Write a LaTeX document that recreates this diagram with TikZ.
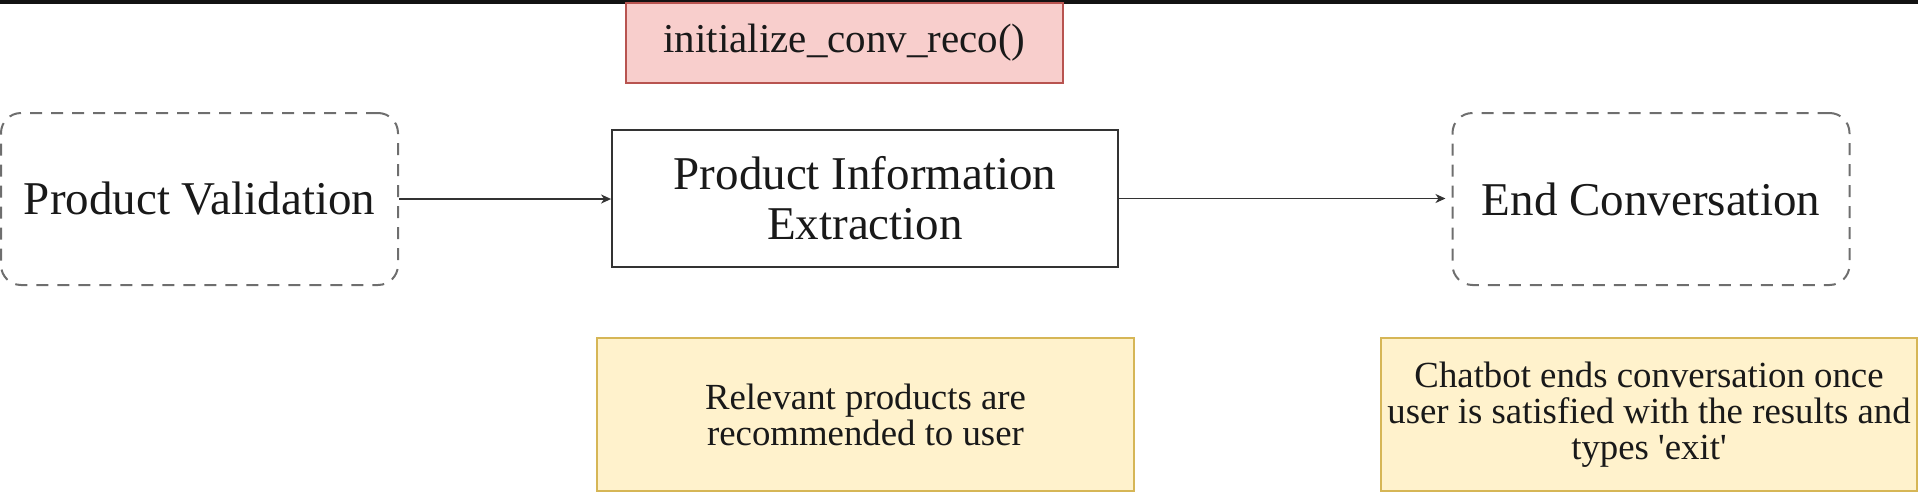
\documentclass[tikz,border=0pt]{standalone}
\usepackage{fontspec}
\setmainfont{Liberation Serif}[Ligatures=TeXOff]
\usetikzlibrary{arrows.meta}
\definecolor{pinkfill}{HTML}{F8CECC}
\definecolor{pinkline}{HTML}{B85450}
\definecolor{yelfill}{HTML}{FFF2CC}
\definecolor{yelline}{HTML}{D6B656}
\definecolor{dashgray}{HTML}{6E6E6E}
\definecolor{linegray}{HTML}{333333}
\tikzset{
  dashbox/.style={draw=dashgray, line width=1pt, dash pattern=on 6pt off 4.5pt,
    rounded corners=10pt, minimum width=198.5pt, minimum height=86pt, inner sep=0pt,
    font=\fontsize{23.5pt}{25pt}\selectfont, text=black!90},
  mainbox/.style={draw=linegray, line width=0.9pt, minimum width=253pt, minimum height=68.5pt,
    inner sep=0pt, align=center, font=\fontsize{23.5pt}{25pt}\selectfont, text=black!90},
  pinkbox/.style={draw=pinkline, fill=pinkfill, line width=0.6pt, minimum width=218.5pt,
    minimum height=40pt, inner sep=0pt, font=\fontsize{20.5pt}{22pt}\selectfont, text=black!90},
  notebox/.style={draw=yelline, fill=yelfill, line width=0.6pt, minimum width=268.5pt,
    minimum height=76.5pt, inner sep=0pt, align=center,
    font=\fontsize{18.4pt}{18pt}\selectfont, text=black!90},
  arr/.style={draw=linegray, line width=0.7pt, -{Stealth[length=5pt,width=4.5pt,inset=1.5pt]}}
}
\begin{document}
\begin{tikzpicture}[x=0.5pt,y=-0.5pt]
\useasboundingbox (0,0) rectangle (1918,493);
\fill[black!93] (0,0) rectangle (1918,3.5);
\node[pinkbox] (init) at (844.5,43) {initialize\_conv\_reco()};
\node[dashbox] (pv) at (199.5,199) {Product Validation};
\node[mainbox] (pie) at (865,198.5) {Product Information\\Extraction};
\node[dashbox] (ec) at (1651,199) {End Conversation};
\node[notebox] (n1) at (865.5,414.5) {Relevant products are\\recommended to user};
\node[notebox, minimum width=268pt] (n2) at (1649,414.5) {Chatbot ends conversation once\\user is satisfied with the results and\\types 'exit'};
\coordinate (ecin) at ([xshift=-3pt]ec.west);
\draw[arr] (pv.east) -- (pv.east -| pie.west);
\draw[arr] (pie.east) -- (pie.east -| ecin);
\end{tikzpicture}
\end{document}
